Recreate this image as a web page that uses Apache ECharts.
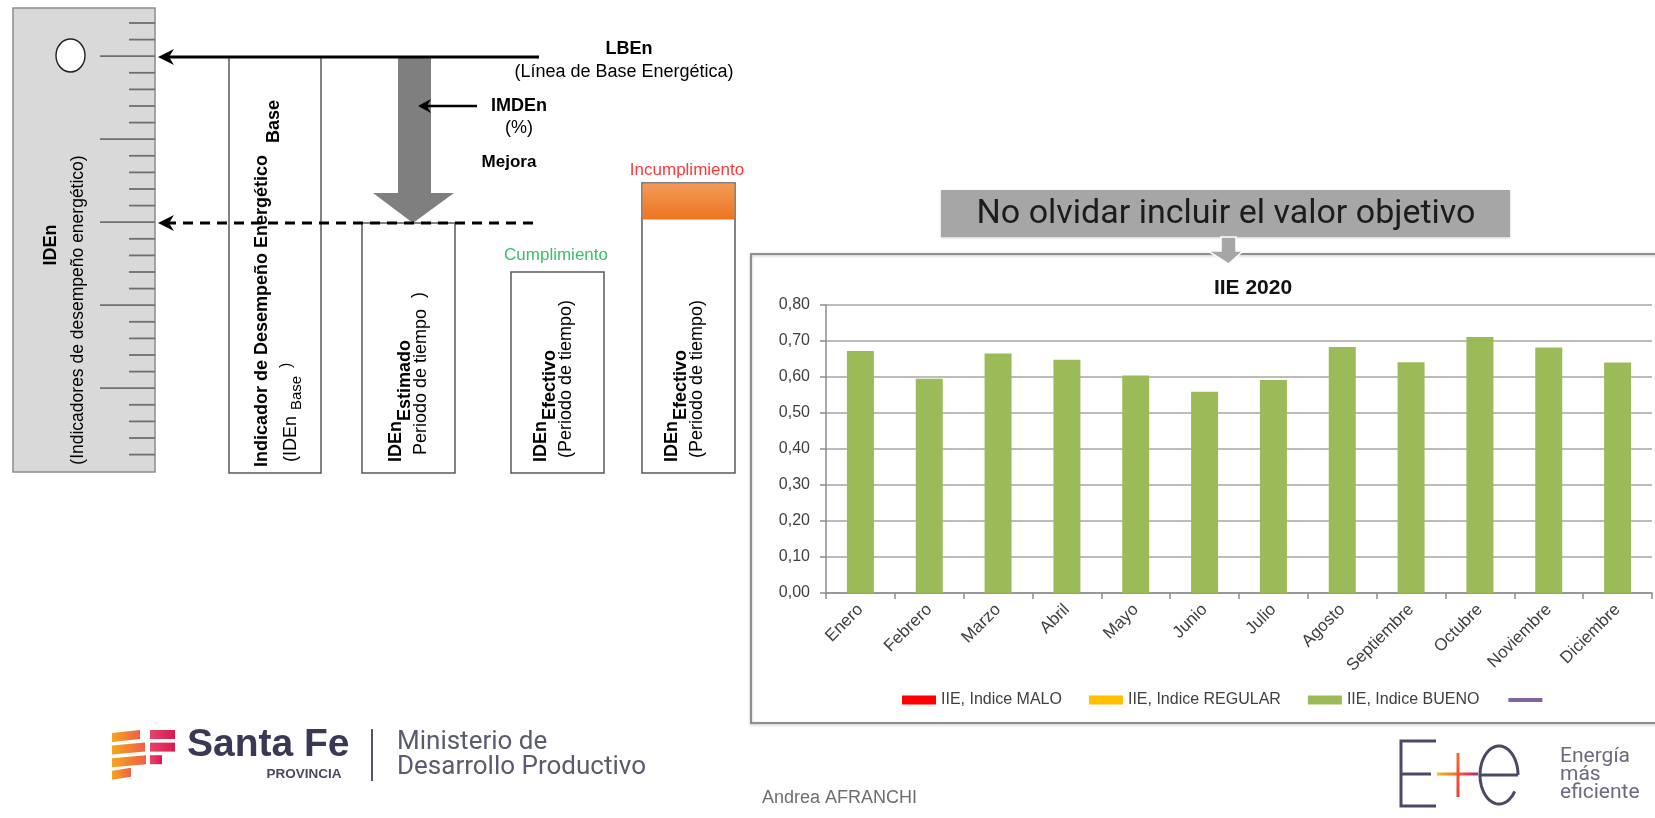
<!DOCTYPE html>
<html>
<head>
<meta charset="utf-8">
<title>IIE 2020</title>
<script src="https://cdn.jsdelivr.net/npm/echarts@6/dist/echarts.min.js"></script>
<style>
  html, body { margin: 0; padding: 0; background: #ffffff; }
  #main { width: 1655px; height: 818px; }
</style>
</head>
<body>
<div id="main"></div>
<script>
// ---- Data: IIE 2020 monthly index ----
const months = ['Enero', 'Febrero', 'Marzo', 'Abril', 'Mayo', 'Junio',
                'Julio', 'Agosto', 'Septiembre', 'Octubre', 'Noviembre', 'Diciembre'];
const iieMalo = [];
const iieRegular = [];
const iieBueno = [0.672, 0.595, 0.665, 0.648, 0.604, 0.559, 0.592, 0.683, 0.641, 0.711, 0.682, 0.640];
const objetivo = [];
const yMin = 0;
const yMax = 0.8;
const yStep = 0.1;
const seriesNames = ['IIE, Indice MALO', 'IIE, Indice REGULAR', 'IIE, Indice BUENO', 'Objetivo'];

const SANS = 'Liberation Sans, Arial, sans-serif';
const UI = 'Roboto, Liberation Sans, sans-serif';

// Text helpers for the explanatory diagram
function txt(x, y, text, size, opts) {
  opts = opts || {};
  return {
    type: 'text', x: x, y: y, silent: true, z: opts.z || 20,
    rotation: opts.rot || 0,
    style: {
      text: text, fill: opts.fill || '#000',
      fontSize: size, fontFamily: opts.family || SANS,
      fontWeight: opts.weight || 'normal',
      align: opts.align || 'left', verticalAlign: opts.valign || 'middle'
    }
  };
}
function vtxt(x, y, text, size, opts) {
  opts = Object.assign({}, opts || {}, { rot: Math.PI / 2 });
  return txt(x, y, text, size, opts);
}
function seg(x1, y1, x2, y2, stroke, w, extra) {
  return Object.assign({
    type: 'line', silent: true, z: 15,
    shape: { x1: x1, y1: y1, x2: x2, y2: y2 },
    style: { stroke: stroke, lineWidth: w }
  }, extra || {});
}
function box(x, y, w, h, style, z) {
  return { type: 'rect', silent: true, z: z || 10, shape: { x: x, y: y, width: w, height: h }, style: style };
}
function poly(points, fill, z) {
  return { type: 'polygon', silent: true, z: z || 16, shape: { points: points }, style: { fill: fill } };
}

const diagram = [];

// Ruler (IDEn scale)
diagram.push(box(13, 8, 142, 464, { fill: '#d9d9d9', stroke: '#8c8c8c', lineWidth: 1.5 }, 5));
for (let k = 0; k <= 26; k++) {
  const ty = 23 + k * 16.6;
  const longTick = (k % 5 === 2);
  diagram.push(seg(longTick ? 100 : 129, ty, 155, ty, '#6f6f6f', 1.8, { z: 6 }));
}
diagram.push({
  type: 'group', x: 70.5, y: 55.5, scaleY: 16.5 / 14.5, silent: true, z: 7,
  children: [{ type: 'circle', shape: { cx: 0, cy: 0, r: 14.5 }, style: { fill: '#fff', stroke: '#222', lineWidth: 1.4 }, z: 7 }]
});
diagram.push(vtxt(51, 245, 'IDEn', 18, { weight: 'bold', align: 'center' }));
diagram.push(vtxt(78, 310, '(Indicadores de desempeño energético)', 17.5, { align: 'center' }));

// Target level (dashed) and baseline (solid)
diagram.push(seg(166, 223, 539, 223, '#000', 3, { style: { stroke: '#000', lineWidth: 3, lineDash: [10, 7] } }));
diagram.push(poly([[158, 223], [174, 215], [169, 223], [174, 231]], '#000'));

// Boxes
diagram.push(box(229, 57, 92, 416, { fill: '#fff', stroke: '#595959', lineWidth: 1.5 }, 12));
diagram.push(box(362, 223, 93, 250, { fill: '#fff', stroke: '#595959', lineWidth: 1.5 }, 12));
diagram.push(box(511, 272, 93, 201, { fill: '#fff', stroke: '#595959', lineWidth: 1.5 }, 12));
diagram.push(box(642, 183, 93, 290, { fill: '#fff', stroke: '#595959', lineWidth: 1.5 }, 12));
diagram.push(box(642.5, 183.5, 92, 36, {
  fill: new echarts.graphic.LinearGradient(0, 0, 0, 1, [
    { offset: 0, color: '#f39a57' }, { offset: 1, color: '#ee7420' }
  ])
}, 13));

diagram.push(seg(166, 57, 539, 57, '#000', 3));
diagram.push(poly([[158, 57], [174, 49], [169, 57], [174, 65]], '#000'));

// Improvement arrow (IMDEn)
diagram.push(poly([[398, 58], [431, 58], [431, 193], [454, 193], [413, 223], [373, 193], [398, 193]], '#7f7f7f', 14));
diagram.push(seg(427, 106, 477, 106, '#000', 2.6));
diagram.push(poly([[418, 106], [431, 99], [427, 106], [431, 113]], '#000'));

// Diagram labels
diagram.push(txt(629, 49, 'LBEn', 18, { weight: 'bold', align: 'center' }));
diagram.push(txt(624, 72, '(Línea de Base Energética)', 18, { align: 'center' }));
diagram.push(txt(519, 106, 'IMDEn', 18, { weight: 'bold', align: 'center' }));
diagram.push(txt(519, 128, '(%)', 18, { align: 'center' }));
diagram.push(txt(509, 162, 'Mejora', 17, { weight: 'bold', align: 'center' }));
diagram.push(txt(556, 255, 'Cumplimiento', 17, { fill: '#3cbf6c', align: 'center' }));
diagram.push(txt(687, 170, 'Incumplimiento', 17, { fill: '#ff3838', align: 'center' }));

// Box 1
diagram.push(vtxt(262, 467, 'Indicador de Desempeño Energético', 18, { weight: 'bold' }));
diagram.push(vtxt(274, 143, 'Base', 18, { weight: 'bold' }));
diagram.push(vtxt(291, 462, '(IDEn', 18));
diagram.push(vtxt(297, 410, 'Base', 15));
diagram.push(vtxt(287, 368, ')', 16));
// Box 2
diagram.push(vtxt(396, 462, 'IDEn', 18, { weight: 'bold' }));
diagram.push(vtxt(405, 421, 'Estimado', 18, { weight: 'bold' }));
diagram.push(vtxt(421, 455, 'Periodo de tiempo', 18));
diagram.push(vtxt(419, 298, ')', 18));
// Box 3
diagram.push(vtxt(541, 462, 'IDEn', 18, { weight: 'bold' }));
diagram.push(vtxt(550, 420, 'Efectivo', 18, { weight: 'bold' }));
diagram.push(vtxt(566, 458, '(Periodo de tiempo)', 18));
// Box 4
diagram.push(vtxt(672, 462, 'IDEn', 18, { weight: 'bold' }));
diagram.push(vtxt(681, 420, 'Efectivo', 18, { weight: 'bold' }));
diagram.push(vtxt(697, 458, '(Periodo de tiempo)', 18));

// Chart frame, reminder banner and pointer
const frame = [];
frame.push(box(751, 254, 912, 469, {
  fill: 'rgba(255,255,255,0)', stroke: '#8f8f8f', lineWidth: 2,
  shadowBlur: 3, shadowColor: 'rgba(0,0,0,0.25)', shadowOffsetY: 1
}, 1));
frame.push(box(941, 190, 569, 47, {
  fill: '#a6a6a6', shadowBlur: 2, shadowColor: 'rgba(0,0,0,0.2)', shadowOffsetY: 1
}, 30));
frame.push(txt(1226, 214, 'No olvidar incluir el valor objetivo', 34, { family: UI, fill: '#1c1c1c', align: 'center', z: 31 }));
frame.push({
  type: 'polygon', silent: true, z: 32,
  shape: { points: [[1221, 237], [1236, 237], [1236, 251], [1243, 251], [1228.5, 264], [1208, 251], [1221, 251]] },
  style: { fill: '#a6a6a6', stroke: '#ffffff', lineWidth: 1.5 }
});

// Footer: Santa Fe logo, ministry, author, E+e logo
const footer = [];
const orangeGrad = new echarts.graphic.LinearGradient(0, 0, 1, 0, [
  { offset: 0, color: '#f7a51c' }, { offset: 1, color: '#ee5f45' }
]);
const pinkGrad = new echarts.graphic.LinearGradient(0, 0, 1, 0, [
  { offset: 0, color: '#e8446a' }, { offset: 1, color: '#d61a52' }
]);
const stripeRight = [140, 145, 146, 131];
const barWidths = [25, 25, 12, 0];
for (let r = 0; r < 4; r++) {
  const top = 730 + r * 12.6;
  const xr = stripeRight[r];
  footer.push(poly([[112, top + 3], [xr, top], [xr, top + 9], [112, top + 12]], orangeGrad, 20));
  if (barWidths[r] > 0) {
    footer.push(box(150, top, barWidths[r], 9, { fill: pinkGrad }, 20));
  }
}
footer.push(txt(187, 745, 'Santa Fe', 39, { weight: 'bold', fill: '#3a3955' }));
footer.push(txt(304, 774, 'PROVINCIA', 13.5, { weight: 'bold', fill: '#4a4960', align: 'center' }));
footer.push(seg(372, 729, 372, 781, '#55556a', 2));
footer.push(txt(397, 742, 'Ministerio de', 26, { family: UI, fill: '#5a5a70' }));
footer.push(txt(397, 767, 'Desarrollo Productivo', 26, { family: UI, fill: '#5a5a70' }));
footer.push(txt(762, 798, 'Andrea AFRANCHI', 18, { fill: '#6e6e6e' }));

const logoInk = '#4b4a66';
footer.push({ type: 'polyline', silent: true, z: 20,
  shape: { points: [[1436, 741], [1401, 741], [1401, 806], [1436, 806]] },
  style: { stroke: logoInk, lineWidth: 3, fill: null } });
footer.push(seg(1401, 774, 1431, 774, logoInk, 3, { z: 20 }));
footer.push(seg(1437, 774, 1478, 774, null, 3, { z: 21, style: { lineWidth: 3,
  stroke: new echarts.graphic.LinearGradient(0, 0, 1, 0, [
    { offset: 0, color: '#f9c21a' }, { offset: 0.45, color: '#f4702b' },
    { offset: 0.75, color: '#e8315a' }, { offset: 1, color: '#7a3b8f' }
  ]) } }));
footer.push(seg(1458, 753, 1458, 797, null, 3, { z: 21, style: { lineWidth: 3,
  stroke: new echarts.graphic.LinearGradient(0, 0, 0, 1, [
    { offset: 0, color: '#f4702b' }, { offset: 1, color: '#ea3d3d' }
  ]) } }));
const ePts = [];
for (let i = 0; i <= 60; i++) {
  const t = 0.6 + (2 * Math.PI - 0.6) * i / 60;
  ePts.push([1499 + 19 * Math.cos(t), 775 + 29 * Math.sin(t)]);
}
footer.push({ type: 'polyline', silent: true, z: 20, shape: { points: ePts },
  style: { stroke: logoInk, lineWidth: 3, fill: null } });
footer.push(seg(1480, 775, 1518, 775, logoInk, 3, { z: 20 }));
footer.push(txt(1560, 757, 'Energía', 21, { family: UI, fill: '#6a6a80' }));
footer.push(txt(1560, 775, 'más', 21, { family: UI, fill: '#6a6a80' }));
footer.push(txt(1560, 793, 'eficiente', 21, { family: UI, fill: '#6a6a80' }));

const chart = echarts.init(document.getElementById('main'), null, { renderer: 'canvas' });

chart.setOption({
  backgroundColor: '#ffffff',
  animation: false,
  title: {
    text: 'IIE 2020',
    left: 1248, top: 273, textAlign: 'center',
    textStyle: { fontFamily: SANS, fontSize: 21, fontWeight: 'bold', color: '#111' }
  },
  legend: {
    left: 897, top: 687,
    itemWidth: 34, itemHeight: 9, itemGap: 27,
    textStyle: { fontFamily: SANS, fontSize: 16, color: '#404040' },
    formatter: function (name) { return name === seriesNames[3] ? '' : name; },
    data: [
      { name: seriesNames[0], icon: 'rect' },
      { name: seriesNames[1], icon: 'rect' },
      { name: seriesNames[2], icon: 'rect' },
      { name: seriesNames[3], itemStyle: { opacity: 0 }, lineStyle: { width: 4, color: '#8064a2' } }
    ]
  },
  grid: { left: 826, right: 3, top: 305, bottom: 225, outerBoundsMode: 'none' },
  xAxis: {
    type: 'category',
    data: months,
    boundaryGap: true,
    axisLine: { lineStyle: { color: '#8c8c8c', width: 1.5 } },
    axisTick: { show: true, length: 6, lineStyle: { color: '#8c8c8c', width: 1.5 } },
    axisLabel: { interval: 0, rotate: 45, margin: 14, fontFamily: SANS, fontSize: 17, color: '#404040' }
  },
  yAxis: {
    type: 'value',
    min: yMin, max: yMax, interval: yStep,
    axisLine: { show: true, lineStyle: { color: '#8c8c8c', width: 1.5 } },
    axisTick: { show: true, length: 6, lineStyle: { color: '#8c8c8c', width: 1.5 } },
    axisLabel: {
      margin: 16, fontFamily: SANS, fontSize: 16, color: '#404040',
      formatter: function (v) { return v.toFixed(2).replace('.', ','); }
    },
    splitLine: { lineStyle: { color: '#a6a6a6', width: 1.5 } }
  },
  series: [
    { name: seriesNames[0], type: 'bar', stack: 'iie', data: iieMalo, itemStyle: { color: '#ff0000' } },
    { name: seriesNames[1], type: 'bar', stack: 'iie', data: iieRegular, itemStyle: { color: '#ffc000' } },
    { name: seriesNames[2], type: 'bar', stack: 'iie', data: iieBueno, barWidth: 27, itemStyle: { color: '#9bbb59' } },
    { name: seriesNames[3], type: 'line', data: objetivo, symbol: 'none', itemStyle: { color: '#8064a2' }, lineStyle: { color: '#8064a2', width: 4 } }
  ],
  graphic: { elements: diagram.concat(frame, footer) }
});
</script>
</body>
</html>
